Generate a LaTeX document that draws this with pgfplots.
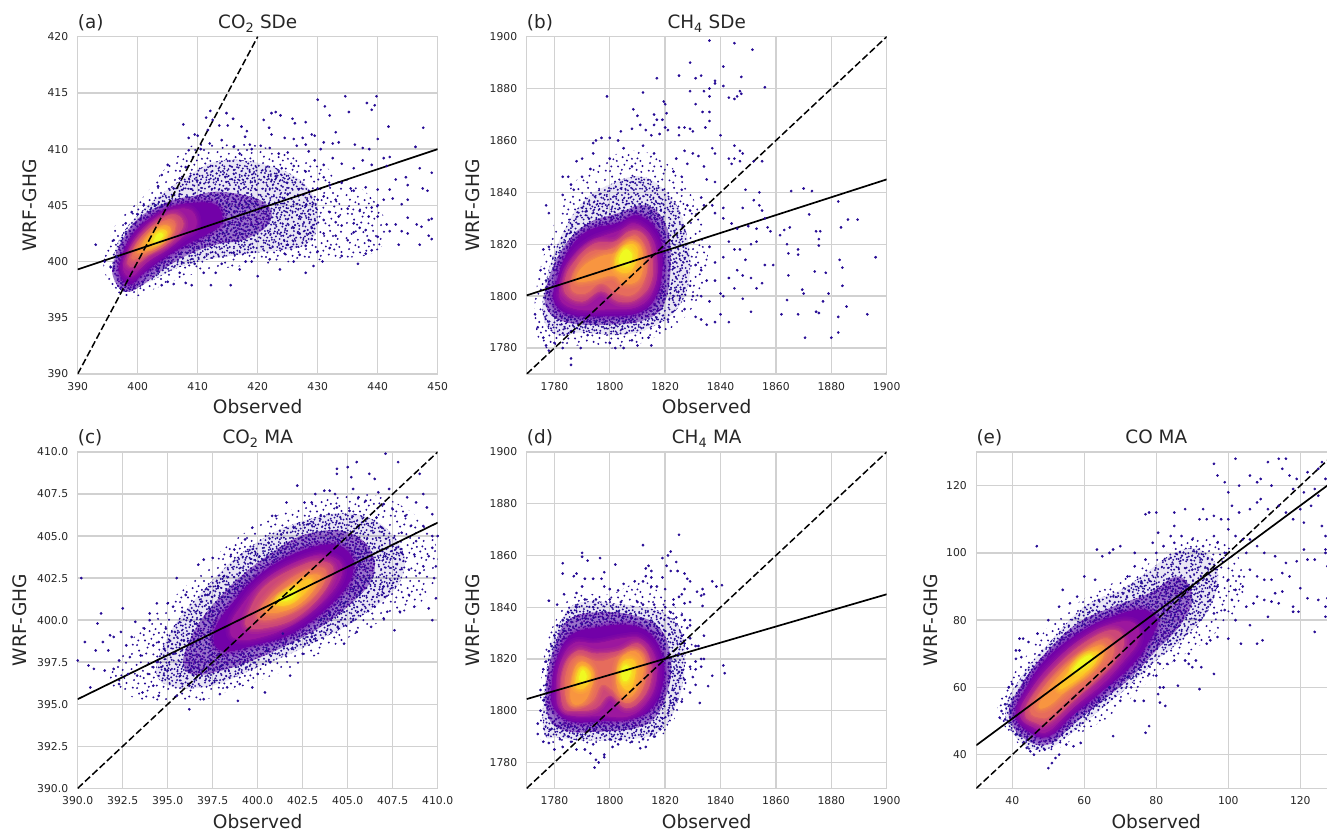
\documentclass[border=0pt]{standalone}
\usepackage{pgfplots}
\pgfplotsset{compat=1.18}
\usepackage{fontspec}
\usetikzlibrary{patterns}
\setmainfont{DejaVu Sans}
\definecolor{pa}{HTML}{250A94}
\definecolor{pb}{HTML}{4C02A1}
\definecolor{pc}{HTML}{7201A8}
\definecolor{pd}{HTML}{9C179E}
\definecolor{pe}{HTML}{CC4778}
\definecolor{pf}{HTML}{E66C5C}
\definecolor{pg}{HTML}{F89540}
\definecolor{ph}{HTML}{FDC527}
\definecolor{pi}{HTML}{F0F921}
\definecolor{gr}{gray}{0.82}
\definecolor{tx}{gray}{0.15}
% speckle texture for the areas too dense to list point by point
\newcommand\tiledots[1]{\foreach \a/\b in {7/12,19/33,31/8,44/27,58/11,72/22,88/7,93/31,12/52,27/61,38/44,53/48,66/39,79/51,91/57,6/78,18/88,33/74,46/92,49/66,63/71,76/83,87/76,95/93,24/20,41/13,67/6,82/36,9/34,35/57,59/58,71/62,14/67,28/94,55/83,69/95,84/63,96/45,47/36,22/44}{\pgfpathcircle{\pgfpoint{\a*#1pt}{\b*#1pt}}{1.1pt}}\pgfusepath{fill}}
\pgfdeclarepatternformonly{dB}{\pgfqpoint{0pt}{0pt}}{\pgfqpoint{43pt}{43pt}}{\pgfqpoint{43pt}{43pt}}{\tiledots{0.43}}
\pgfdeclarepatternformonly{dC}{\pgfqpoint{0pt}{0pt}}{\pgfqpoint{37pt}{37pt}}{\pgfqpoint{37pt}{37pt}}{\tiledots{0.37}}
\pgfdeclarepatternformonly{dD}{\pgfqpoint{0pt}{0pt}}{\pgfqpoint{29pt}{29pt}}{\pgfqpoint{29pt}{29pt}}{\tiledots{0.29}}
\pgfdeclarepatternformonly{dE}{\pgfqpoint{0pt}{0pt}}{\pgfqpoint{23pt}{23pt}}{\pgfqpoint{23pt}{23pt}}{\tiledots{0.23}}
\pgfplotsset{
 lv/.style={no marks,draw=none,fill=#1,smooth cycle,tension=0.7,forget plot,line join=round,
  preaction={draw=#1,draw opacity=0.2,line width=10pt,line join=round},
  preaction={draw=#1,draw opacity=0.25,line width=6pt,line join=round},
  preaction={draw=#1,draw opacity=0.35,line width=3pt,line join=round}},
 p0/.style={no marks,draw=none,pattern=dB,pattern color=pa,smooth cycle,tension=0.7,forget plot},
 p1/.style={no marks,draw=none,preaction={fill=pa,fill opacity=0.1},preaction={pattern=dC,pattern color=pa},pattern=dD,pattern color=pa,smooth cycle,tension=0.7,forget plot},
 l1/.style={no marks,draw=none,preaction={fill=pb,fill opacity=0.5},preaction={pattern=dD,pattern color=pa},pattern=dE,pattern color=pb,smooth cycle,tension=0.7,forget plot},
 dots/.style={only marks,mark=*,mark size=1.15pt,color=pa,mark options={solid,draw=none,fill=pa},forget plot},
 sol/.style={black,line width=1.7pt,no marks,forget plot},
 das/.style={black,line width=1.5pt,no marks,dash pattern=on 7pt off 3pt,forget plot},
 pan/.style={scale only axis,width=360pt,anchor=south west,grid=major,
  grid style={gr,line width=1.4pt},axis line style={gr,line width=1.4pt},
  major tick length=0pt,tick style={draw=none},
  tick label style={font=\fontsize{10.8}{12}\selectfont,text=tx,/pgf/number format/assume math mode=true,/pgf/number format/1000 sep={}},
  xticklabel style={yshift=-5pt},yticklabel style={xshift=-6pt},
  xlabel=Observed,
  every axis x label/.style={at={(axis description cs:0.5,-0.098)},anchor=center,font=\fontsize{18.6}{20}\selectfont,text=tx},
  ylabel={WRF-GHG},
 },
 tt/.style 2 args={extra description/.code={
  \node[anchor=base,font=\fontsize{18.4}{20}\selectfont,text=tx] at (axis description cs:0.5,1.024) {#2};
  \node[anchor=base west,inner sep=0pt,font=\fontsize{18.4}{20}\selectfont,text=tx] at (axis description cs:0,1.024) {#1};}},
 yl/.style={every axis y label/.style={at={(axis description cs:#1,0.5)},rotate=90,anchor=center,font=\fontsize{18.6}{20}\selectfont,text=tx}},
}
\begin{document}
\begin{tikzpicture}[x=1pt,y=1pt]
\path[use as bounding box,clip] (0,0) rectangle (1327pt,830pt);
% (a)
\begin{axis}[pan,at={(77.7pt,456pt)},height=337.3pt,xmin=390,xmax=450,ymin=390,ymax=420,xtick={390,400,...,450},ytick={390,395,...,420},yl=-0.133,tt={(a)}{CO\textsubscript{2} SDe}]
\addplot[p0] coordinates {(394.5,399)(398,396.8)(402,397.4)(407,398.5)(413,399.3)(422,399.8)(432,400.2)(440,401)(441,404)(436,407)(428,409)(418,410.5)(410,410.5)(405,408.5)(401,405.8)(397,403.8)(395,401.5)};
\addplot[p1] coordinates {(396,398.5)(398,397.3)(402,398.2)(407,399.5)(413,400.3)(420,400.8)(428,401.5)(430,404)(428,406.8)(422,408.5)(414,409)(408,407.5)(404,406)(400.5,404.4)(397.5,402.5)(396,400.5)};
\addplot[dots] coordinates {(393,401.5)(394.5,400)(395.5,399.5)(396,401.9)(396.5,400.4)(398,403.4)(399,404.4)(400,404.2)(401,405)(403,405)(404,404.9)(403.4,406.7)(404,407.7)(405,408.6)(406,406.5)(407,407.4)(407,406)(408,408.4)(408.5,409.9)(407.6,412.2)(408.5,411)(409.5,411.3)(410,411.2)(411.4,412.8)(412.1,413.4)(412.5,412.6)(411.7,411.7)(413.6,412.1)(415,412.1)(414.8,413.2)(415.9,412.7)(417.3,412)(418.2,411.6)(417.9,411.1)(418.7,410.4)(421,412.6)(422.3,413.2)(423,413.3)(423.8,413)(425.8,412.7)(426.2,412.3)(428,412.4)(421.9,411.9)(422.3,411.3)(424.5,411)(426,410.9)(427.5,411)(429,411.3)(429.5,411.2)(430,414.4)(431.2,413.8)(432,413)(434.6,414.7)(435.2,413.3)(438.2,414.1)(439.5,413.9)(439.8,414.7)(439,413.5)(433,411.5)(441.8,412)(447.6,411.9)(440,410.9)(431,410.6)(432.5,410.5)(433.5,410.6)(436.2,410.4)(437.5,410.1)(438.6,410)(446.3,410.2)(441,409.2)(442,409.3)(428.5,409.8)(430.5,410)(410.5,410)(412,410.5)(414,410.8)(416,410.2)(417,409.6)(419,410)(420.5,410.3)(422,410.1)(423.5,409.6)(425,409.7)(426.5,410.3)(428,410.4)(429.5,409)(431,408.6)(432.5,409.2)(434,408.7)(436,408.3)(437.5,409)(439,408.6)(441.5,408.5)(443,407.3)(444.7,407.5)(447,408.3)(449,407.9)(445,406.8)(447.5,406.5)(448.3,406.3)(442,406.4)(440,406.4)(438,406.6)(436,406.3)(434,407)(432,406.8)(430,406.5)(428,408)(426,408.5)(424,408.3)(423,407.6)(431,405.8)(433,405.5)(435,404.7)(437,404.5)(439,404.8)(441,405.5)(442.5,405.6)(444,405.1)(445,405.5)(436,403.4)(438,402.8)(440,404)(441.5,403.3)(443,403.3)(444,402.7)(445,403.9)(446.5,403.3)(447.3,403.1)(448.5,403.7)(449,403.8)(445,402.5)(447,401.5)(448.5,402.3)(449,402)(440,402.2)(442,402.7)(438.5,401.9)(439,401)(438,400.7)(436,402.6)(435,401.9)(434,403.2)(433,402.3)(432,401.2)(431,402.5)(430,400.9)(429,402)(428,401.4)(427,400.6)(429.3,399.6)(430.8,400)(436.7,399.8)(431,403.7)(432,404.4)(429,403)(427,402.5)(425,401.5)(423.7,399.3)(424.5,400.7)(422,400.2)(420,398.7)(419,400)(418,400)(417,399.3)(415.5,397.9)(412.2,397.9)(413,399)(414,399.8)(411,399)(409,397.9)(408,398.1)(406,398)(405,398.2)(404,397.9)(407,399)(409.5,399.8)(416,400.8)(426,403)(428,405)(430,405.5)(433,403.5)(435.5,406.5)(437,403)(440,405)(427,404)(425,406)(431,407.5)(433.5,404)(438.5,404)(443.5,401.5)(434,400.5)(428,399)(426,400)};
\addplot[l1] coordinates {(396,398.5)(398,397.3)(401,398)(404,399.2)(408,400.5)(413,401.5)(418,402)(422,403.5)(421,405.3)(414,406.2)(409,405.8)(406,405.5)(403,404.8)(400,403.8)(397.5,402)(396,400)};
\addplot[lv=pc] coordinates {(397,399)(398.7,398)(401,399)(404,400.2)(408,401.5)(412,402.6)(414,403.6)(413,405)(409,405.2)(405.5,404.8)(402.5,404)(399.5,402.6)(397.7,400.8)};
\addplot[lv=pd] coordinates {(397.6,399.3)(399,398.7)(401.5,399.9)(404.5,401)(407.5,402.2)(409.7,403.1)(409,404.5)(406,404.6)(403,403.8)(400,402.3)(398.2,400.6)};
\addplot[lv=pe] coordinates {(398.3,399.8)(399.5,399.6)(401.8,400.6)(404.5,401.4)(407,402.6)(407.5,403.6)(405.8,404.2)(403,403.4)(400.3,402)(398.8,400.6)};
\addplot[lv=pf] coordinates {(399,400.3)(400,400.3)(402,401)(404.5,401.7)(406.2,402.9)(405.8,403.7)(404,403.5)(401.5,402.4)(399.7,401.2)};
\addplot[lv=pg] coordinates {(400,400.8)(401,400.9)(402.7,401.3)(404.5,402)(405.5,402.8)(404.9,403.2)(403.5,403)(401.7,402.2)(400.4,401.3)};
\addplot[lv=ph] coordinates {(401.6,401.4)(403,401.6)(404.7,402.4)(404.6,402.8)(403.5,402.7)(402.2,402.1)};
\addplot[lv=pi] coordinates {(402.8,401.8)(403.8,402)(404.2,402.4)(403.6,402.5)(403,402.2)};
\addplot[das] coordinates {(390,390)(420,420)};
\addplot[sol] coordinates {(390,399.3)(450,410)};
\end{axis}
% (b)
\begin{axis}[pan,at={(526.7pt,456pt)},height=337.3pt,xmin=1770,xmax=1900,ymin=1770,ymax=1900,xtick={1780,1800,...,1900},ytick={1780,1800,...,1900},yl=-0.149,tt={(b)}{CH\textsubscript{4} SDe}]
\addplot[p0] coordinates {(1773,1790)(1777,1780)(1790,1781)(1803,1780)(1816,1784)(1828,1793)(1834,1806)(1835,1822)(1830,1838)(1822,1850)(1810,1856)(1797,1852)(1786,1842)(1779,1825)(1774,1806)};
\addplot[p1] coordinates {(1776,1792)(1781,1785)(1790,1786)(1803,1785)(1815,1788)(1825,1796)(1829,1810)(1827,1827)(1822,1838)(1812,1846)(1800,1843)(1790,1836)(1782,1822)(1777,1806)};
\addplot[dots] coordinates {(1836,1898.5)(1845,1897.5)(1851.5,1895)(1829,1890)(1841,1888.5)(1817,1884)(1825,1885)(1831,1884)(1833,1885)(1838,1883)(1847.5,1884.5)(1838,1882)(1841,1881)(1856,1880.5)(1836,1880)(1829,1879)(1834,1879)(1847,1879)(1847.5,1878)(1843,1876.5)(1845,1876)(1846,1877)(1812,1878.5)(1799,1877)(1836,1877)(1819.5,1875)(1820,1874)(1831,1874)(1808.5,1872)(1836,1871)(1833.5,1871)(1820.5,1870.5)(1810,1869.5)(1816,1870)(1817,1868)(1819,1868)(1836,1867.5)(1811,1866)(1816,1866)(1834.5,1865)(1825,1865)(1827,1865)(1820,1865)(1821,1864)(1808,1864.5)(1813,1864)(1829,1864.5)(1804,1863.5)(1830,1863.5)(1825,1862)(1840,1862)(1815,1862)(1818,1862.5)(1865.5,1840.5)(1870,1841.5)(1873,1840.5)(1882.5,1836.5)(1872,1831.5)(1874.5,1825)(1876,1825)(1883.5,1826.5)(1886,1829.5)(1889.5,1829.5)(1875.5,1822)(1875.5,1819.5)(1865,1826.5)(1863,1825.5)(1857,1826.5)(1858,1825)(1861.5,1823.5)(1864,1820)(1868,1818)(1868,1816)(1883,1814)(1864.5,1816.5)(1884,1811)(1896,1815)(1874,1809.5)(1878,1809)(1864.5,1808)(1884,1804)(1869.5,1802.5)(1870,1801)(1879,1801)(1864,1798.5)(1877,1798)(1885.5,1796)(1874.5,1794)(1875.5,1793.5)(1862,1793)(1868,1793)(1893,1793)(1882.5,1792)(1870.5,1784)(1880,1784)(1882.5,1786)(1845,1858)(1847,1856)(1848,1855)(1845,1853)(1843,1853)(1847,1852)(1852,1852)(1855,1852)(1837,1857)(1838,1855)(1844,1851)(1834,1850)(1827,1856)(1830,1855)(1832,1854)(1795,1860)(1797,1861)(1800,1861)(1803,1860)(1794,1859)(1790,1853)(1788,1852)(1783,1846)(1785,1846)(1786,1843)(1787,1841)(1783,1839)(1790,1846)(1793,1849)(1777,1835)(1778,1832)(1776,1818)(1778,1819)(1775,1810)(1777,1806)(1773,1793)(1774,1788)(1777,1781)(1776,1784)(1780,1782)(1783,1780)(1786,1776)(1786,1773.5)(1789.5,1780)(1778,1779)(1792,1785)(1795,1790)(1800,1782)(1802,1780)(1805,1780)(1808,1783)(1810,1781)(1815,1781)(1814,1784)(1818,1788)(1821,1791)(1827,1795)(1831,1792)(1833,1791)(1835,1789)(1838,1790)(1843,1790)(1840,1793)(1830,1800)(1833,1800)(1836,1798)(1840,1801)(1841,1800)(1845,1803)(1848,1799)(1851,1794)(1851,1807)(1853,1803)(1855,1805)(1846,1810)(1848,1808)(1843,1807)(1838,1806)(1835,1806)(1833,1810)(1831,1812)(1829,1804)(1847,1818)(1845,1818)(1849,1814)(1856,1812)(1859,1812)(1841,1815)(1838,1813)(1836,1819)(1843,1821)(1851,1820)(1853,1821)(1850,1827)(1853,1826)(1846,1826)(1844,1828)(1841,1830)(1838,1832)(1834,1835)(1837,1835)(1835,1845)(1838,1844)(1833,1838)(1829,1833)(1852,1837)(1854,1840)(1854,1835)(1855,1833)(1856,1830)(1848,1834)(1849,1841)(1841,1834)(1828,1835)(1826,1846)(1823,1848)(1826,1841)(1824,1853)(1828,1851)(1816,1855)(1812,1858)(1805,1857)(1808,1850)(1800,1853)(1794,1855)};
\addplot[l1] coordinates {(1777,1796)(1784,1790)(1800,1789)(1813,1791)(1820,1798)(1822,1815)(1820,1828)(1813,1835)(1803,1832)(1792,1828)(1784,1820)(1778,1807)};
\addplot[lv=pc] coordinates {(1780,1798)(1786,1793)(1800,1792.5)(1811,1794)(1817,1801)(1819,1814)(1817,1825)(1810,1831)(1803,1828)(1792,1825)(1785,1817)(1781,1806)};
\addplot[lv=pd] coordinates {(1782,1799)(1788,1795)(1799,1795)(1810,1796)(1816,1803)(1817,1815)(1815,1823)(1809,1828)(1803,1825)(1793,1821)(1786,1814)(1783,1806)};
\addplot[lv=pe] coordinates {(1784,1801)(1790,1798)(1797,1802)(1803,1798)(1810,1799)(1815,1806)(1815,1817)(1812,1824)(1807,1825)(1802,1821)(1794,1820)(1787,1813)(1784,1807)};
\addplot[lv=pf] coordinates {(1786,1803)(1791,1801)(1797,1805)(1803,1801)(1809,1801)(1813,1808)(1813,1817)(1810,1823)(1806,1822)(1800,1818)(1793,1817)(1788,1811)};
\addplot[lv=pg] coordinates {(1788,1806)(1793,1806)(1801,1808)(1805,1805)(1810,1806)(1812,1812)(1811,1819)(1807,1821)(1803,1817)(1796,1815)(1790,1811)};
\addplot[lv=ph] coordinates {(1802,1811)(1806,1809)(1809,1812)(1810,1818)(1807,1820)(1803,1816)};
\addplot[lv=pi] coordinates {(1803.5,1813)(1806.5,1812)(1808,1815.5)(1806,1818)(1804,1816)};
\addplot[das] coordinates {(1770,1770)(1900,1900)};
\addplot[sol] coordinates {(1770,1800.3)(1900,1845)};
\end{axis}
% (c)
\begin{axis}[pan,at={(77.7pt,41.7pt)},height=336.3pt,xmin=390,xmax=410,ymin=390,ymax=410,xtick={390,392.5,...,410},ytick={390,392.5,...,410},yl=-0.16,tt={(c)}{CO\textsubscript{2} MA},tick label style={/pgf/number format/fixed,/pgf/number format/fixed zerofill,/pgf/number format/precision=1}]
\addplot[p0] coordinates {(392,396)(395.5,395)(399,396)(402.5,397.5)(406,399.5)(409,401)(410,403.5)(409,406)(406,407.5)(402.5,406.8)(399,405)(396.5,402.5)(394,400)(392.5,398)};
\addplot[p1] coordinates {(394.5,396.5)(397,396)(400,397.2)(403,398.6)(406,400.4)(408,402.5)(407.7,404.8)(405.5,406.3)(402.5,405.9)(399.5,404.3)(397,401.8)(395,399)};
\addplot[dots] coordinates {(390,397.6)(390.2,402.5)(390.4,398.7)(390.6,397.3)(390.7,396)(390.9,397.1)(391,398.2)(391.1,399.8)(391.3,400.4)(391.4,398.7)(391.7,398.2)(391.8,399.1)(392,399)(392,397.1)(392.3,397.6)(392.3,396.2)(392.4,399.3)(392.5,400.7)(392.7,398.5)(392.9,397.8)(393,399)(393.2,399.9)(393.3,396.7)(393.5,397.9)(393.6,395.7)(393.9,396.8)(394,400.4)(394.2,398.5)(394.2,396.1)(394.4,401)(394.4,397.5)(394.5,395.5)(394.9,399.5)(395,401)(395.3,398)(395.4,399.3)(395.5,402.5)(395.5,395.5)(395.7,396.7)(396,401.5)(396.2,394.7)(396.3,400)(396.7,403.3)(397,403.6)(397.5,403.7)(397.2,401.5)(397,395.3)(397.9,395.6)(398.1,402.6)(398.5,403.8)(398.3,396)(398.7,404.2)(399.3,404.8)(398.9,395.2)(399,396.2)(399.7,396)(400,396.8)(400.4,395.7)(400.7,397.5)(401.8,396.7)(401.9,398.3)(400.8,406.2)(401,406.2)(399.7,405.5)(401.6,407)(402.2,408)(403,407)(402.6,407)(403.2,407.5)(404.4,409)(405,409.1)(404.4,408.7)(405.5,409.4)(406.2,408.7)(406.5,408.4)(405.2,408.5)(405.3,407.8)(407.1,409.9)(407.8,409.4)(409,408.7)(409.2,407.5)(408.3,407.3)(407.3,407.8)(406.7,407.6)(406,407.1)(405.6,407.3)(404.3,407.5)(404,407.7)(403.7,407.7)(409.4,406.7)(409.7,406.3)(408.8,407)(407.5,406.6)(407,406.9)(408.2,406.2)(408.5,405.6)(409.2,405.6)(409.7,405)(410,405)(409.7,404.3)(409.5,403.8)(409.9,403.2)(409.2,403.2)(408.7,403.9)(408,404)(408.4,403)(409,402.8)(409.8,402.5)(409.9,401.3)(409.5,400.7)(409.7,400)(408.7,400.8)(408.4,401.5)(407.9,400.5)(407.2,400.5)(406.9,401.5)(406.3,399.6)(407,400.1)(407.6,399.4)(407,402)(406.5,400.8)(405.5,399.3)(404.8,398.6)(405.3,400)(404.5,399.5)(403.2,398.9)(402.5,398)(403,399)(404,400.3)(408.8,404.7)(407.7,404.3)(408,405.2)(406.9,405.5)(407.1,403.8)(406.6,406.1)(394,400)(394.8,398.3)(393.7,399.5)(395.9,398.8)(396.2,397)(395,397)(394.5,398.7)(394.2,397.2)(392.8,396.8)(391.5,397)(396.6,399.8)(395.8,400.5)(395.3,400.8)(396.9,401.1)(397.3,400.7)(396.2,396.1)(397.6,396.4)(398,397.3)(399.2,397.4)(400.5,398.2)(397.8,402)(398.4,401.7)(399,402.8)(399.6,403.4)(400.1,403.8)(400.6,404.6)(401.3,405.1)(402,405.5)(402.8,405.7)(403.5,406.2)(404.4,406.7)(405.1,406.5)(401.4,399.2)(403.5,400)(404.8,401)(405.7,401.6)(406.2,402.5)};
\addplot[l1] coordinates {(396,397)(398,397)(402,398.7)(405,400.8)(406.5,403)(405.5,405)(403,405.2)(400.5,403.8)(398,401.5)(396.3,399)};
\addplot[lv=pc] coordinates {(398,398.2)(399.7,398.5)(402,399.3)(404.3,401.2)(405.3,403)(404.7,404.3)(403,404.3)(400.5,403)(398.6,401)(397.6,399.3)};
\addplot[lv=pd] coordinates {(398.8,398.9)(400.2,399)(402,399.8)(403.9,401.4)(404.7,403)(404,403.8)(402.7,403.7)(400.5,402.5)(399,400.7)(398.5,399.6)};
\addplot[lv=pe] coordinates {(399.4,399.6)(400.7,399.6)(402.2,400.2)(403.6,401.6)(404.2,403)(403.5,403.5)(402.3,403.2)(400.5,402.1)(399.6,400.7)};
\addplot[lv=pf] coordinates {(400,400.2)(401,400.1)(402.4,400.8)(403.5,401.9)(403.8,402.9)(403.2,403.1)(402,402.6)(400.7,401.5)};
\addplot[lv=pg] coordinates {(400.4,400.6)(401.3,400.5)(402.5,401.1)(403.4,402.3)(403.3,402.7)(402.5,402.5)(401.4,401.7)};
\addplot[lv=ph] coordinates {(400.9,401)(401.6,400.9)(402.4,401.4)(403,402.2)(402.7,402.4)(401.7,401.7)};
\addplot[lv=pi] coordinates {(401.2,401.2)(401.7,401.2)(402.1,401.5)(402.1,401.8)(401.6,401.6)};
\addplot[das] coordinates {(390,390)(410,410)};
\addplot[sol] coordinates {(390,395.3)(410,405.8)};
\end{axis}
% (d)
\begin{axis}[pan,at={(526.7pt,41.7pt)},height=336.3pt,xmin=1770,xmax=1900,ymin=1770,ymax=1900,xtick={1780,1800,...,1900},ytick={1780,1800,...,1900},yl=-0.149,tt={(d)}{CH\textsubscript{4} MA}]
\addplot[p0] coordinates {(1775,1792)(1777,1788)(1790,1787)(1805,1786)(1817,1789)(1824,1798)(1829,1810)(1830,1822)(1828,1835)(1820,1843)(1812,1850)(1800,1845)(1788,1845)(1782,1838)(1777,1825)(1775,1808)};
\addplot[p1] coordinates {(1776,1793)(1782,1789.5)(1795,1788.5)(1808,1789)(1818,1792)(1824,1802)(1827,1816)(1826,1830)(1819,1838)(1805,1841)(1790,1842)(1783,1836)(1778,1822)};
\addplot[dots] coordinates {(1825,1868)(1812,1864)(1822,1861.5)(1790,1861)(1821,1860)(1790,1859.5)(1796.5,1859)(1819,1859)(1824,1857.5)(1792,1858)(1783,1857)(1802,1856.5)(1820.5,1856)(1814,1856)(1813,1855)(1815,1854)(1822,1854)(1824.5,1854)(1783,1853)(1813,1852)(1815,1851.5)(1827,1853)(1788,1853)(1787,1852)(1798,1853.5)(1797,1851)(1791,1851)(1794,1851)(1819,1851.5)(1828,1851)(1829,1850)(1837,1850)(1840.5,1848.5)(1838.5,1848)(1790,1848)(1798,1848)(1805,1849)(1809,1850)(1815,1848)(1817,1848)(1812,1850)(1833.5,1847)(1831.5,1846)(1834,1845)(1833,1844.5)(1783.5,1845)(1788,1845.5)(1800,1847)(1803,1846.5)(1827,1847)(1826,1845)(1820,1847)(1825,1844)(1823,1843)(1778,1842.5)(1781,1841)(1829,1842)(1827,1841.5)(1833.5,1840.5)(1823,1841)(1791,1843)(1788,1840)(1785,1838)(1783,1835)(1781,1833)(1780,1829)(1779,1825)(1778,1823)(1777,1819)(1776,1816)(1775,1808)(1776,1804)(1775,1800)(1774,1795)(1774,1791)(1776,1788)(1778,1787.5)(1780,1785)(1783,1786)(1782,1789)(1786,1788)(1788,1785)(1791,1785)(1793,1783.5)(1798,1783)(1798,1782)(1801,1786)(1795,1781)(1794.5,1778)(1796,1780)(1803,1787)(1808,1788)(1811,1785.5)(1813,1786)(1816,1790)(1818,1793)(1819,1797)(1821,1799)(1822,1803)(1824,1804)(1826,1803.5)(1832.5,1803)(1829,1807)(1831,1810)(1835.5,1809.5)(1837,1813.5)(1830,1813)(1831,1816)(1827,1812)(1829,1817)(1833,1817)(1841.5,1814.5)(1841,1817.5)(1834,1820)(1833,1820)(1831,1819)(1828,1824)(1827,1826)(1829,1828)(1831,1825)(1832,1825)(1834,1829)(1828,1832)(1829,1833)(1827,1835)(1829,1835)(1826,1837)(1824,1836)(1822,1838)(1820,1840)(1816,1841)(1812,1841)(1810,1842)(1804,1842)(1800,1843)(1795,1843)(1794,1840)(1785,1835)(1777,1810)(1779,1793)(1785,1790)(1790,1790)(1794,1787)(1800,1789)(1804,1789)(1812,1789)(1815,1791)(1823,1808)(1825,1815)(1825,1822)(1826,1829)};
\addplot[l1] coordinates {(1778,1797)(1785,1792)(1797,1792)(1808,1793)(1816,1797)(1821,1808)(1822,1820)(1818,1832)(1808,1837)(1795,1838)(1785,1835)(1780,1825)(1777,1810)};
\addplot[lv=pc] coordinates {(1780,1801)(1786,1796)(1797,1796)(1808,1797)(1815,1801)(1819,1810)(1819,1820)(1815,1829)(1807,1833)(1795,1832)(1786,1829)(1781,1820)(1779,1808)};
\addplot[lv=pd] coordinates {(1782,1801)(1787,1798)(1797,1798)(1807,1798)(1814,1804)(1817,1813)(1816,1822)(1811,1828)(1805,1828)(1795,1826)(1787,1826)(1782,1818)(1781,1807)};
\addplot[lv=pe] coordinates {(1783,1802)(1788,1800)(1795,1801)(1800,1806)(1806,1801)(1812,1805)(1815,1813)(1814,1821)(1810,1826)(1803,1823)(1795,1822)(1788,1823)(1783,1815)};
\addplot[lv=pf] coordinates {(1785,1803)(1790,1802)(1794,1804)(1797,1810)(1801,1808)(1806,1803)(1811,1807)(1813,1815)(1811,1823)(1803,1821)(1796,1819)(1788,1821)(1784,1813)};
\addplot[lv=pg] coordinates {(1786,1804)(1790,1803)(1793,1808)(1794,1815)(1790,1819)(1787,1815)};
\addplot[lv=pg] coordinates {(1803,1808)(1807,1805)(1811,1811)(1812,1819)(1808,1823)(1803,1818)};
\addplot[lv=ph] coordinates {(1788,1809)(1791,1809)(1793,1814)(1790,1817)(1788,1813)};
\addplot[lv=ph] coordinates {(1804,1811)(1807,1808)(1809,1813)(1809,1819)(1805,1819)};
\addplot[lv=pi] coordinates {(1789,1812)(1791,1811.5)(1791.5,1814)(1790,1815.5)};
\addplot[lv=pi] coordinates {(1804.5,1812.5)(1806,1811.5)(1807.5,1815)(1806,1817.5)(1804.5,1816)};
\addplot[das] coordinates {(1770,1770)(1900,1900)};
\addplot[sol] coordinates {(1770,1804.5)(1900,1845)};
\end{axis}
% (e)
\begin{axis}[pan,at={(976.3pt,41.7pt)},height=336.3pt,xmin=30,xmax=130,ymin=30,ymax=130,xtick={40,60,...,120},ytick={40,60,...,120},yl=-0.126,tt={(e)}{CO MA}]
\addplot[p0] coordinates {(36,53)(41,44)(47,40)(53,42)(60,47)(68,52)(76,60)(85,68)(94,74)(102,83)(105,93)(100,102)(92,105)(84,101)(75,95)(66,90)(58,85)(50,78)(43,68)(38,60)};
\addplot[p1] coordinates {(38,53)(42,44)(49,41.5)(56,46)(64,53)(72,60)(80,68)(88,75)(95,84)(97,95)(92,101)(85,100)(77,94)(70,89)(60,84)(50,73)(43,64)};
\addplot[dots] coordinates {(46.8,102)(54,89)(42,74.5)(43,74.5)(41,71)(42,71)(44.5,73.5)(42.5,69)(41,68.5)(39,60)(40,61)(38,55)(37,53)(36.5,51)(38,50.5)(39.5,53)(41,46)(44,42)(45,41)(46,40)(47,42)(49,41.5)(50,36)(51,37.5)(52,39)(53,40)(55,43)(57,42.5)(59,43.5)(68,45.5)(77,46.5)(78,48.5)(76.5,56)(74,56)(73,60)(72,63)(80,63.5)(78,64)(81,60)(82,60)(80.5,58)(81,55.5)(82.5,54.5)(81,67)(83,67)(85,68)(86,60.5)(88,68)(89,67)(91,68)(92,59.5)(92.5,66)(96,64)(90,66)(94,73)(95,74)(97,75)(89,70)(100,74.5)(103.5,73)(108,73)(109.5,74)(102,80)(106,78.5)(111,81)(118,82.5)(119.5,82.5)(124,76.5)(127,81)(127,84)(127.5,86.5)(125,86)(122,86.5)(120,89.5)(118,84)(113,88)(115,88.5)(110,86)(108,87)(107,85)(105,84)(112,85.5)(114,85)(102,89)(104,90)(101,86)(99,83)(100,92)(103,93)(106,95)(108,93)(110,92)(112,92)(115,94)(117,93)(119,97.5)(122,98)(124,98)(127,100)(127.5,96)(116,97)(113,99)(110,100)(108,102)(105,100)(104,104)(106,104)(102,105)(100,107)(98,110)(96,111)(93,113)(92,110)(88,113)(85,112)(85,108)(80,112)(77,111.5)(78,112)(80.5,106)(84,105)(79,103)(74,100)(70,102)(67,100)(63.5,101)(68,101)(65,99)(60,93)(63,92)(64,86)(58,87)(56,85)(53,84)(50,80)(47,76)(76,91)(72,93)(74,96)(77,98)(80,100)(82,102)(85,103)(87,105)(90,104)(93,102)(97,103)(99,100)(96,105)(100,110)(103,112)(106,113)(108,115)(109,116)(111,113)(114,114)(116,112)(118,110)(120,113)(123,114)(125,117)(100,118)(103,120)(99,121)(97,123)(96,126.5)(102,128)(111,127)(114,128)(116,128)(115,125)(117,123)(119,122)(122,124)(125,125)(126,127)(127,122)(124,119)(121,118)(118,119)(108,121)(106,123)(109,122)(112,120)(101,114)(94,110)(121,109)(126,108)(127,105)(127,101)(121,101)(90,95)(88,90)(90,86)(95,86)(97,90)(94,92)(85,78)(92,80)(96,82)(78,72)(70,56)(67,60)(64,56)(60,52)(58,52)};
\addplot[l1] coordinates {(39,52)(43,45)(50,43)(57,49)(65,56)(73,63)(80,71)(87,79)(90,87)(86,93)(78,88)(68,84)(58,79)(49,70)(42,60)};
\addplot[lv=pc] coordinates {(41,52)(44.5,47)(50,45.5)(57,52)(65,59)(73,66.5)(78,74)(80,80)(76,83)(68,81)(60,77)(50,69)(44,60)};
\addplot[lv=pd] coordinates {(42,52)(46,48)(50,47)(57,54)(65,61)(71,68)(75,74)(74,79)(68,79)(60,75)(51,67)(45,59)};
\addplot[lv=pe] coordinates {(43.5,52)(46.5,49.5)(50,49.5)(57,56)(64,63)(69,68.5)(71,74)(68,77)(61,74)(53,67)(46,58)};
\addplot[lv=pf] coordinates {(45,53)(48,51)(51,52)(57,58)(64,64)(68,70)(66.5,74.5)(61,72)(54,66)(48,59)};
\addplot[lv=pg] coordinates {(47.5,55)(50,54.5)(56,60)(62,65)(65.5,70)(64.5,72.5)(60,70)(53,63.5)};
\addplot[lv=ph] coordinates {(53,60)(56,61)(61.5,65.5)(64,69.5)(62.5,70.5)(58,67.5)};
\addplot[lv=pi] coordinates {(57,65)(59,65.5)(62,68)(61.5,69.5)(59,68)};
\addplot[das] coordinates {(30,30)(130,130)};
\addplot[sol] coordinates {(30,42.8)(130,122)};
\end{axis}
\end{tikzpicture}
\end{document}
